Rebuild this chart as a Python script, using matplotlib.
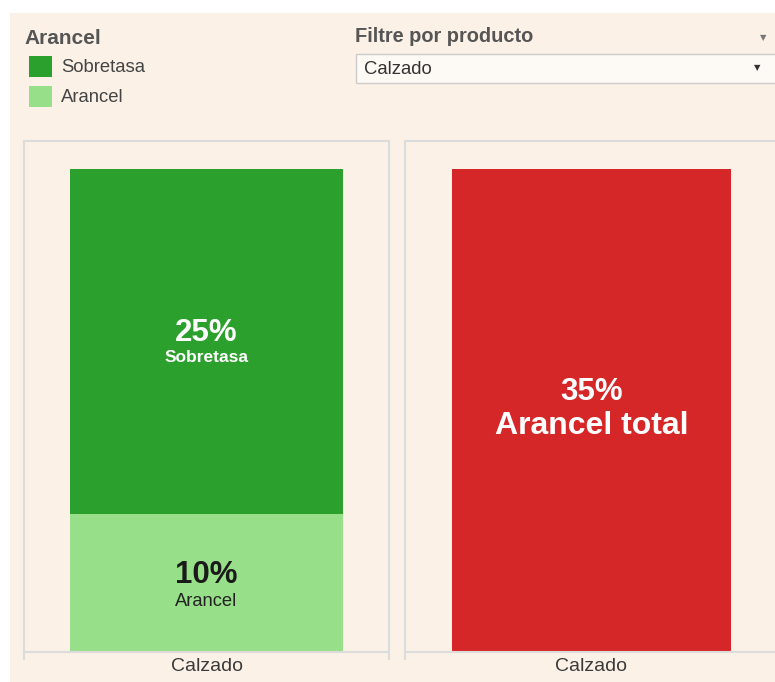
import matplotlib.pyplot as plt
from matplotlib.patches import Rectangle
from matplotlib.lines import Line2D

# data
products = ['Calzado']
arancel = [10]
sobretasa = [25]
total = [35]
series_names = ['Sobretasa', 'Arancel']
series_colors = ['#2ca02c', '#98df8a']
total_color = '#d62728'

W, H = 775, 682
bg = '#fbf1e6'
edge = '#dcdcdc'
plt.rcParams['font.family'] = ['Liberation Sans', 'DejaVu Sans']

fig = plt.figure(figsize=(W / 100, H / 100), dpi=100, facecolor='white')


def fx(px):
    return px / W


def fy(py):
    return 1 - py / H


# cream background panel (behind the axes)
fig.patches.append(Rectangle((fx(10), 0), 1, fy(13), transform=fig.transFigure,
                             facecolor=bg, edgecolor='none', zorder=-5))

ax1 = fig.add_axes([fx(24), fy(652), fx(389) - fx(24), fy(141) - fy(652)])
ax2 = fig.add_axes([fx(405), fy(652), fx(778) - fx(405), fy(141) - fy(652)])

x = list(range(len(products)))
ax1.bar(x, arancel, width=0.75, color=series_colors[1])
ax1.bar(x, sobretasa, width=0.75, bottom=arancel, color=series_colors[0])
ax2.bar(x, total, width=0.75, color=total_color)

for ax in (ax1, ax2):
    ax.set_facecolor(bg)
    ax.set_xlim(-0.5, 0.5)
    ax.set_ylim(0, 37)
    ax.set_yticks([])
    ax.set_xticks(x)
    ax.set_xticklabels(products, fontsize=14, color='#3a3a3a')
    ax.tick_params(axis='x', length=0, pad=4)
    for s in ax.spines.values():
        s.set_color(edge)
        s.set_linewidth(1.5)
    # side borders run a little below the baseline
    for xx in (0, 1):
        ax.add_line(Line2D([xx, xx], [0, -0.014], transform=ax.transAxes,
                           color=edge, lw=1.5, clip_on=False))

# labels inside bars
for i in x:
    mid = arancel[i] / 2
    ax1.annotate(f'{arancel[i]}%', (i, mid), xytext=(0, 5.5), textcoords='offset points',
                 ha='center', va='center', fontsize=22.5, fontweight='bold', color='#1a1a1a')
    ax1.annotate('Arancel', (i, mid), xytext=(0, -13), textcoords='offset points',
                 ha='center', va='center', fontsize=13.2, color='#222222')
    mid = arancel[i] + sobretasa[i] / 2
    ax1.annotate(f'{sobretasa[i]}%', (i, mid), xytext=(0, 6.3), textcoords='offset points',
                 ha='center', va='center', fontsize=22.5, fontweight='bold', color='white')
    ax1.annotate('Sobretasa', (i, mid), xytext=(0, -11.5), textcoords='offset points',
                 ha='center', va='center', fontsize=12.5, fontweight='bold', color='white')
    mid = total[i] / 2
    ax2.annotate(f'{total[i]}%', (i, mid), xytext=(0, 13), textcoords='offset points',
                 ha='center', va='center', fontsize=22.5, fontweight='bold', color='white')
    ax2.annotate('Arancel total', (i, mid), xytext=(0, -11.5), textcoords='offset points',
                 ha='center', va='center', fontsize=23, fontweight='bold', color='white')

# legend
fig.text(fx(24), fy(38), 'Arancel', fontsize=15, fontweight='bold', color='#555555',
         ha='left', va='center')
for k, (name, col) in enumerate(zip(series_names, series_colors)):
    top = 56 + k * 30
    fig.patches.append(Rectangle((fx(29), fy(top + 21)), fx(23), 21 / H,
                                 transform=fig.transFigure, facecolor=col, edgecolor='none'))
    fig.text(fx(61), fy(top + 11), name, fontsize=13.3, color='#444444', ha='left', va='center')

# product filter
fig.text(fx(355), fy(37), 'Filtre por producto', fontsize=14.4, fontweight='bold',
         color='#555555', ha='left', va='center')
fig.text(fx(763), fy(38), '\u25bc', fontsize=6, color='#777777', ha='center', va='center',
         family=['DejaVu Sans'])
fig.patches.append(Rectangle((fx(356), fy(83)), fx(430), 29 / H, transform=fig.transFigure,
                             facecolor='#fdf9f4', edgecolor='#cccccc', lw=1))
fig.text(fx(364), fy(69), products[0], fontsize=13.3, color='#333333', ha='left', va='center')
fig.text(fx(757), fy(68), '\u25bc', fontsize=6, color='#333333', ha='center', va='center',
         family=['DejaVu Sans'])

fig.savefig('out.png', dpi=100, facecolor='white')
